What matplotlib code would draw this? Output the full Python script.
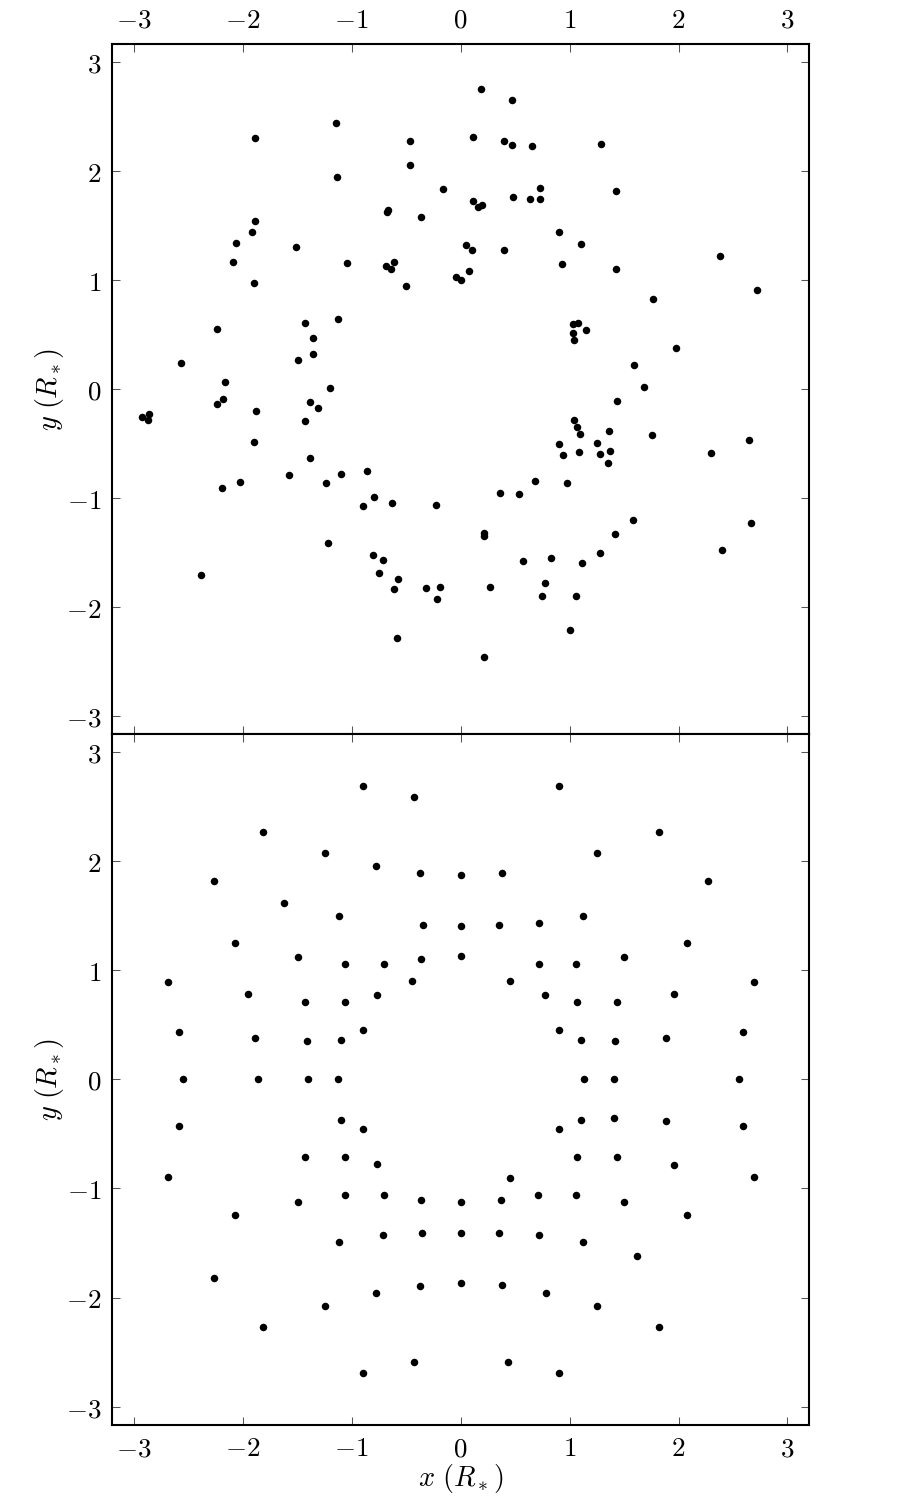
import matplotlib
matplotlib.use("Agg")
import matplotlib.pyplot as plt

plt.rcParams['mathtext.fontset'] = 'cm'
plt.rcParams['font.family'] = ['DejaVu Serif']

# ---- top panel (scattered points) ----
top_x = [-1.140, -1.885, -0.465, -0.462, -1.134, -0.162, -0.666, -0.673, -0.364, -1.883,
         -1.919, -2.066, -1.510, -2.090, -1.045, -0.614, -0.682, -0.642, -0.504, -1.895,
         -0.045, 0.000, -2.234, -1.430, -1.127, -1.351, -1.357, -1.494, -2.567, -2.160,
         -1.201,
         -2.928, -2.857, -2.866, -2.237, -2.179, -1.876, -1.378, -1.305, -1.430, -1.897,
         -1.384, -1.571, -1.232, -1.097, -0.856, -0.797, -0.896, -0.632, -0.224, -2.026,
         -2.188, -1.214, -2.387, -0.804, -0.715, -0.752, -0.577, -0.608, -0.315, -0.187,
         -0.220, -0.587,
         0.186, 0.473, 0.113, 0.397, 0.473, 0.657, 1.289, 0.727, 1.430, 0.477,
         0.635, 0.727, 0.116, 0.161, 0.192, 0.901, 0.049, 0.104, 0.397, 1.109,
         2.383, 0.929, 1.430, 0.076, 2.719, 1.766, 1.032, 1.078, 1.151, 1.032,
         1.042, 1.973, 1.595, 1.680,
         1.439, 1.042, 1.069, 1.100, 0.904, 0.944, 1.087, 1.252, 1.283, 1.362,
         1.368, 1.350, 1.760, 2.301, 2.643, 0.684, 0.974, 0.360, 0.532, 1.579,
         2.661, 1.414, 0.217, 0.217, 1.283, 2.395, 0.577, 0.834, 1.118, 0.779,
         0.748, 1.063, 0.269, 1.008, 0.217]
top_y = [2.439, 2.305, 2.280, 2.060, 1.943, 1.836, 1.640, 1.622, 1.579, 1.545,
         1.438, 1.341, 1.307, 1.163, 1.154, 1.166, 1.132, 1.105, 0.949, 0.976,
         1.025, 1.004, 0.551, 0.609, 0.643, 0.468, 0.321, 0.269, 0.239, 0.064,
         0.006,
         -0.254, -0.227, -0.285, -0.141, -0.092, -0.199, -0.119, -0.175, -0.294, -0.487,
         -0.634, -0.787, -0.860, -0.778, -0.750, -0.992, -1.069, -1.044, -1.062, -0.854,
         -0.906, -1.409, -1.705, -1.519, -1.570, -1.684, -1.745, -1.837, -1.827, -1.818,
         -1.923, -2.281,
         2.751, 2.654, 2.311, 2.277, 2.237, 2.234, 2.250, 1.842, 1.821, 1.763,
         1.741, 1.747, 1.729, 1.674, 1.686, 1.438, 1.322, 1.273, 1.273, 1.331,
         1.224, 1.151, 1.105, 1.080, 0.906, 0.829, 0.597, 0.603, 0.542, 0.511,
         0.447, 0.373, 0.223, 0.015,
         -0.107, -0.285, -0.346, -0.413, -0.508, -0.606, -0.579, -0.493, -0.594, -0.386,
         -0.569, -0.674, -0.422, -0.591, -0.463, -0.845, -0.863, -0.949, -0.959, -1.203,
         -1.228, -1.329, -1.322, -1.344, -1.503, -1.476, -1.577, -1.546, -1.598, -1.776,
         -1.895, -1.898, -1.818, -2.213, -2.461]

# ---- bottom panel (regular pattern) ----
bot_x = [-0.893, -0.428, -1.812, -1.241, -0.779, -0.373, 0.000, -2.268, -1.617, -1.118,
         -0.348, 0.000, -2.071, -1.491, -1.058, -0.703, -0.364, 0.000, -2.686, -1.947,
         -1.424, -1.058, -0.770, -0.446, -2.582, -1.885, -1.406, -1.097, -0.896,
         0.901, 1.821, 1.249, 0.382, 2.273, 1.124, 0.354, 0.718, 2.080, 0.715,
         1.063, 1.497, 0.455, 2.691, 0.776, 1.066, 1.433, 1.955, 0.904, 1.106,
         1.414, 1.888, 2.590,
         -2.548, -1.861, -1.402, -1.122, 1.130, 1.411, 2.557,
         -2.582, -1.100, -0.896, -1.424, -1.058, -0.770, -2.686, -1.491, -1.058, -0.703,
         -0.364, 0.000, -2.071, -0.712, -0.352, 0.000, -1.118, -2.268, -0.779, -0.376,
         0.000, -1.241, -1.812, -0.428, -0.893,
         1.106, 1.411, 1.885, 2.590, 0.904, 1.066, 1.433, 1.955, 2.691, 0.455,
         0.372, 0.711, 1.063, 1.497, 2.080, 0.354, 0.718, 1.124, 1.619, 0.382,
         0.785, 1.249, 1.821, 0.434, 0.901]
bot_y = [2.688, 2.587, 2.270, 2.077, 1.951, 1.887, 1.869, 1.817, 1.618, 1.493,
         1.410, 1.407, 1.248, 1.119, 1.061, 1.061, 1.101, 1.126, 0.896, 0.780,
         0.713, 0.706, 0.774, 0.903, 0.431, 0.376, 0.352, 0.364, 0.450,
         2.688, 2.270, 2.077, 1.887, 1.817, 1.493, 1.410, 1.431, 1.248, 1.061,
         1.061, 1.119, 0.903, 0.896, 0.774, 0.706, 0.713, 0.780, 0.450, 0.364,
         0.352, 0.376, 0.431,
         0.000, 0.000, 0.000, 0.000, 0.000, 0.000, 0.000,
         -0.431, -0.370, -0.452, -0.716, -0.709, -0.773, -0.896, -1.122, -1.061, -1.064,
         -1.104, -1.128, -1.244, -1.431, -1.409, -1.409, -1.495, -1.817, -1.954, -1.890,
         -1.869, -2.079, -2.272, -2.590, -2.691,
         -0.370, -0.354, -0.379, -0.431, -0.452, -0.709, -0.716, -0.783, -0.896, -0.902,
         -1.104, -1.064, -1.061, -1.122, -1.244, -1.409, -1.431, -1.495, -1.620, -1.886,
         -1.954, -2.079, -2.272, -2.590, -2.691]

ticks = [-3, -2, -1, 0, 1, 2, 3]
tick_labels = [r'$-3$', r'$-2$', r'$-1$', r'$0$', r'$1$', r'$2$', r'$3$']

fig = plt.figure(figsize=(6, 10), dpi=150)
L, R = 0.1244, 0.8992
ax1 = fig.add_axes([L, 0.5107, R - L, 0.9705 - 0.5107])
ax2 = fig.add_axes([L, 0.0502, R - L, 0.5107 - 0.0502])

for ax, xs, ys in ((ax1, top_x, top_y), (ax2, bot_x, bot_y)):
    ax.scatter(xs, ys, s=13, c='black', linewidths=0, zorder=3)
    ax.set_xlim(-3.2, 3.2)
    ax.set_ylim(-3.165, 3.165)
    ax.set_xticks(ticks, labels=tick_labels)
    ax.set_yticks(ticks, labels=tick_labels)
    ax.tick_params(direction='in', length=4, width=0.5, color='#555555',
                   top=True, bottom=True, left=True, right=True,
                   labelsize=13, pad=5)
    for sp in ax.spines.values():
        sp.set_linewidth(1.0)
    ax.set_ylabel(r'$y\ (R_*)$', fontsize=13.5, labelpad=0)

ax1.tick_params(labeltop=True, labelbottom=False)
ax2.tick_params(labeltop=False, labelbottom=True)
ax2.set_xlabel(r'$x\ (R_*)$', fontsize=13.5, labelpad=0)

fig.savefig('out.png', dpi=150)
